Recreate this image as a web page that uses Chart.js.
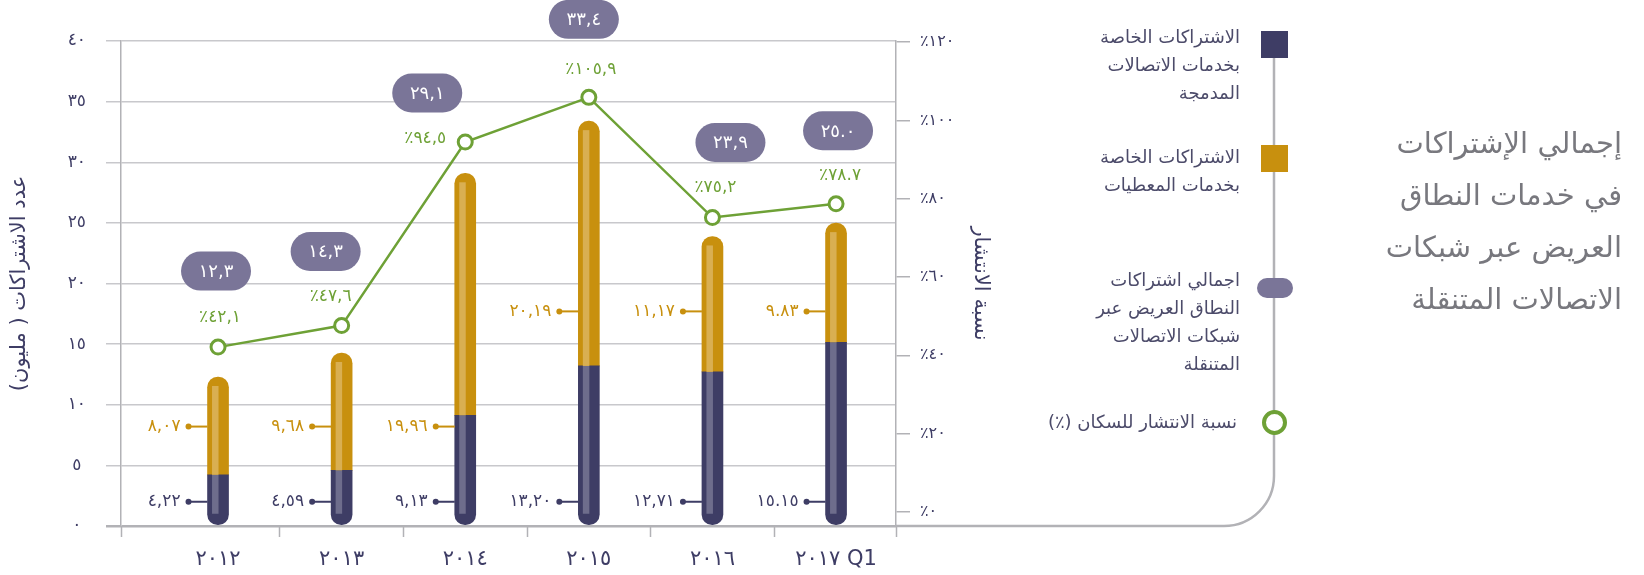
<!DOCTYPE html>
<html lang="ar">
<head>
<meta charset="utf-8">
<title>إجمالي الإشتراكات في خدمات النطاق العريض</title>
<script src="https://cdn.jsdelivr.net/npm/chart.js@4.4.1/dist/chart.umd.min.js"></script>
<style>
  html, body { margin: 0; padding: 0; background: #fff; }
  body { position: relative; width: 1644px; height: 575px; overflow: hidden; font-family: "DejaVu Sans", sans-serif; }
  #chart { position: absolute; left: 0; top: 0; }
  .leg-text { position: absolute; direction: rtl; text-align: right; color: #4c4b6a; font-size: 18px; line-height: 28px; white-space: nowrap; }
  .mark { position: absolute; box-sizing: border-box; }
  #title { position: absolute; right: 22px; top: 117px; direction: rtl; text-align: right; color: #78787e; font-size: 29px; line-height: 52px; white-space: nowrap; }
</style>
</head>
<body>
<canvas id="chart" width="1644" height="575"></canvas>

<div class="mark" style="left:1261px;top:31px;width:27px;height:27px;background:#3e3d65;"></div>
<div class="leg-text" style="right:404px;top:23px;">الاشتراكات الخاصة<br>بخدمات الاتصالات<br>المدمجة</div>

<div class="mark" style="left:1261px;top:145px;width:27px;height:27px;background:#c8900e;"></div>
<div class="leg-text" style="right:404px;top:143px;">الاشتراكات الخاصة<br>بخدمات المعطيات</div>

<div class="mark" style="left:1257px;top:278px;width:36px;height:20px;border-radius:10px;background:#7a7598;"></div>
<div class="leg-text" style="right:404px;top:266px;">اجمالي اشتراكات<br>النطاق العريض عبر<br>شبكات الاتصالات<br>المتنقلة</div>

<div class="mark" style="left:1262px;top:410px;width:25px;height:25px;border-radius:50%;border:4px solid #6ea136;background:#fff;"></div>
<div class="leg-text" style="right:407px;top:408px;">نسبة الانتشار للسكان (٪)</div>

<div id="title">إجمالي الإشتراكات<br>في خدمات النطاق<br>العريض عبر شبكات<br>الاتصالات المتنقلة</div>

<script>
// data (millions / %)
const categories = ['٢٠١٢', '٢٠١٣', '٢٠١٤', '٢٠١٥', '٢٠١٦', '٢٠١٧ Q1'];
const integratedSubs = [4.22, 4.59, 9.13, 13.20, 12.71, 15.15];
const dataSubs = [8.07, 9.68, 19.96, 20.19, 11.17, 9.83];
const totalSubs = [12.3, 14.3, 29.1, 33.4, 23.9, 25.0];
const penetration = [42.1, 47.6, 94.5, 105.9, 75.2, 78.7];
const leftTicks = [0, 5, 10, 15, 20, 25, 30, 35, 40];
const rightTicks = [0, 20, 40, 60, 80, 100, 120];
const decimalMark = [',', ',', ',', ',', ',', '.'];

// where the small value labels sit (in millions on the left axis)
const darkLabelAt = [2, 2, 2, 2, 2, 2];
const goldLabelAt = [8.2, 8.2, 8.2, 17.7, 17.7, 17.7];
// offsets of bubbles / % labels from the line points
const bubbleDx = [-2, -16, -38, -5, 18, 2];
const bubbleDy = [-76, -74, -49, -78, -75, -73];
const pctDx = [2, -11, -40, 2, 3, 4];
const pctDy = [-30, -29, -3, -28, -30, -28];

const FONT = "'DejaVu Sans', sans-serif";
const NAVY = '#3e3d65', GOLD = '#c8900e', GREEN = '#6ea136', BUBBLE = '#7a7598';
const GRID = '#c8c8cc', AXIS = '#b2b2b6';

const ar = (v, d, sep) => v.toFixed(d).replace('.', sep).replace(/\d/g, c => '٠١٢٣٤٥٦٧٨٩'[c]);

const annotations = {
  id: 'annotations',
  beforeDatasetsDraw(chart) {
    const {ctx, chartArea: a} = chart;
    const lx = 1274, r = 50;
    ctx.save();
    ctx.strokeStyle = AXIS;
    ctx.lineWidth = 2.5;
    ctx.beginPath();
    ctx.moveTo(a.right, a.bottom);
    ctx.lineTo(lx - r, a.bottom);
    ctx.arcTo(lx, a.bottom, lx, a.bottom - r, r);
    ctx.lineTo(lx, 50);
    ctx.stroke();
    ctx.restore();
  },
  afterDatasetsDraw(chart) {
    const {ctx, scales: {y}} = chart;
    const dark = chart.getDatasetMeta(1).data;
    const gold = chart.getDatasetMeta(2).data;
    const pts = chart.getDatasetMeta(0).data;
    ctx.save();
    // light stripe inside the bars
    [[dark, '#6e6d8c', 0, 11], [gold, '#d9af52', 9, 0]].forEach(([bars, col, padTop, padBot]) => {
      bars.forEach(b => {
        const top = Math.min(b.y, b.base) + padTop;
        const bot = Math.max(b.y, b.base) - padBot;
        ctx.fillStyle = col;
        ctx.fillRect(b.x - 6, top, 6.5, bot - top);
      });
    });
    // value labels with a small pin to the bar
    ctx.font = '17px ' + FONT;
    ctx.textBaseline = 'middle';
    ctx.textAlign = 'right';
    const pin = (b, val, text, col) => {
      const py = y.getPixelForValue(val);
      const left = b.x - b.width / 2;
      const dx = left - 19;
      ctx.strokeStyle = col; ctx.fillStyle = col; ctx.lineWidth = 2;
      ctx.beginPath(); ctx.moveTo(dx, py); ctx.lineTo(left, py); ctx.stroke();
      ctx.beginPath(); ctx.arc(dx, py, 3, 0, Math.PI * 2); ctx.fill();
      ctx.fillText(text, dx - 8, py);
    };
    dark.forEach((b, i) => pin(b, darkLabelAt[i], ar(integratedSubs[i], 2, decimalMark[i]), NAVY));
    gold.forEach((b, i) => pin(b, goldLabelAt[i], ar(dataSubs[i], 2, decimalMark[i]), GOLD));
    // bubbles with totals and % labels above the line
    pts.forEach((p, i) => {
      const bx = p.x + bubbleDx[i], by = p.y + bubbleDy[i];
      ctx.fillStyle = BUBBLE;
      ctx.beginPath(); ctx.roundRect(bx - 35, by - 19.5, 70, 39, 19.5); ctx.fill();
      ctx.fillStyle = '#fff';
      ctx.textAlign = 'center';
      ctx.font = '18px ' + FONT;
      ctx.fillText(ar(totalSubs[i], 1, decimalMark[i]), bx, by + 1);
      ctx.fillStyle = GREEN;
      ctx.font = '17px ' + FONT;
      ctx.fillText('٪' + ar(penetration[i], 1, decimalMark[i]), p.x + pctDx[i], p.y + pctDy[i]);
    });
    ctx.restore();
  }
};

const idx = categories.map((c, i) => i);

new Chart(document.getElementById('chart'), {
  type: 'bar',
  data: {
    datasets: [
      {
        type: 'line',
        label: 'نسبة الانتشار للسكان (٪)',
        data: idx.map(i => ({x: i, y: penetration[i]})),
        yAxisID: 'y1',
        order: 0,
        borderColor: GREEN,
        borderWidth: 2.5,
        pointRadius: 7,
        pointBorderWidth: 3,
        pointBackgroundColor: '#fff',
        pointBorderColor: GREEN,
        tension: 0
      },
      {
        label: 'الاشتراكات الخاصة بخدمات الاتصالات المدمجة',
        data: idx.map(i => ({x: i, y: integratedSubs[i]})),
        backgroundColor: NAVY,
        stack: 'subs',
        order: 1,
        barThickness: 21,
        borderSkipped: false,
        borderRadius: {bottomLeft: 10.5, bottomRight: 10.5, topLeft: 0, topRight: 0}
      },
      {
        label: 'الاشتراكات الخاصة بخدمات المعطيات',
        data: idx.map(i => ({x: i, y: dataSubs[i]})),
        backgroundColor: GOLD,
        stack: 'subs',
        order: 1,
        barThickness: 21,
        borderSkipped: false,
        borderRadius: {topLeft: 10.5, topRight: 10.5, bottomLeft: 0, bottomRight: 0}
      }
    ]
  },
  options: {
    responsive: false,
    animation: false,
    layout: {padding: {top: 41, right: 648, left: 0, bottom: 0}},
    plugins: {legend: {display: false}, tooltip: {enabled: false}},
    font: {family: FONT},
    scales: {
      x: {
        type: 'linear',
        offset: false,
        stacked: true,
        min: -0.785,
        max: 5.485,
        afterBuildTicks: s => {
          const t = [s.min];
          idx.forEach(i => { t.push(i); if (i < idx.length - 1) t.push(i + 0.5); });
          t.push(s.max);
          s.ticks = t.map(v => ({value: v}));
        },
        afterFit: s => { s.height = 49; },
        border: {display: false},
        grid: {
          offset: false,
          drawOnChartArea: false,
          tickLength: 11,
          tickWidth: 1.5,
          tickColor: c => (c.tick && Number.isInteger(c.tick.value)) ? 'rgba(0,0,0,0)' : AXIS
        },
        ticks: {
          autoSkip: false,
          maxRotation: 0,
          padding: 10,
          color: NAVY,
          font: {family: FONT, size: 21},
          callback: v => Number.isInteger(v) && v >= 0 && v < categories.length ? categories[v] : ''
        }
      },
      y: {
        stacked: true,
        min: 0,
        max: 40,
        afterBuildTicks: s => { s.ticks = leftTicks.map(v => ({value: v})); },
        afterFit: s => { s.width = 121; },
        border: {display: true, color: AXIS, width: 1.5},
        grid: {
          color: c => c.tick && c.tick.value === 0 ? AXIS : GRID,
          lineWidth: c => c.tick && c.tick.value === 0 ? 2.5 : 1.5,
          tickLength: 15
        },
        ticks: {
          crossAlign: 'center',
          padding: 20,
          color: NAVY,
          font: {family: FONT, size: 17},
          callback: v => ar(v, 0, '')
        },
        title: {
          display: true,
          text: 'عدد الاشتراكات ( مليون)\u200F',
          color: NAVY,
          font: {family: FONT, size: 21},
          padding: {top: 7}
        }
      },
      y1: {
        position: 'right',
        stacked: false,
        min: -3.6,
        max: 120.3,
        afterBuildTicks: s => { s.ticks = rightTicks.map(v => ({value: v})); },
        afterFit: s => { s.width = 100; },
        border: {display: true, color: AXIS, width: 1.5},
        grid: {drawOnChartArea: false, tickLength: 14, color: AXIS, lineWidth: 1.5},
        ticks: {
          crossAlign: 'near',
          padding: 10,
          color: NAVY,
          font: {family: FONT, size: 16},
          callback: v => '٪' + ar(v, 0, '')
        },
        title: {
          display: true,
          text: 'نسبة الانتشار',
          color: NAVY,
          font: {family: FONT, size: 21},
          padding: {top: 3}
        }
      }
    }
  },
  plugins: [annotations]
});
</script>
</body>
</html>
